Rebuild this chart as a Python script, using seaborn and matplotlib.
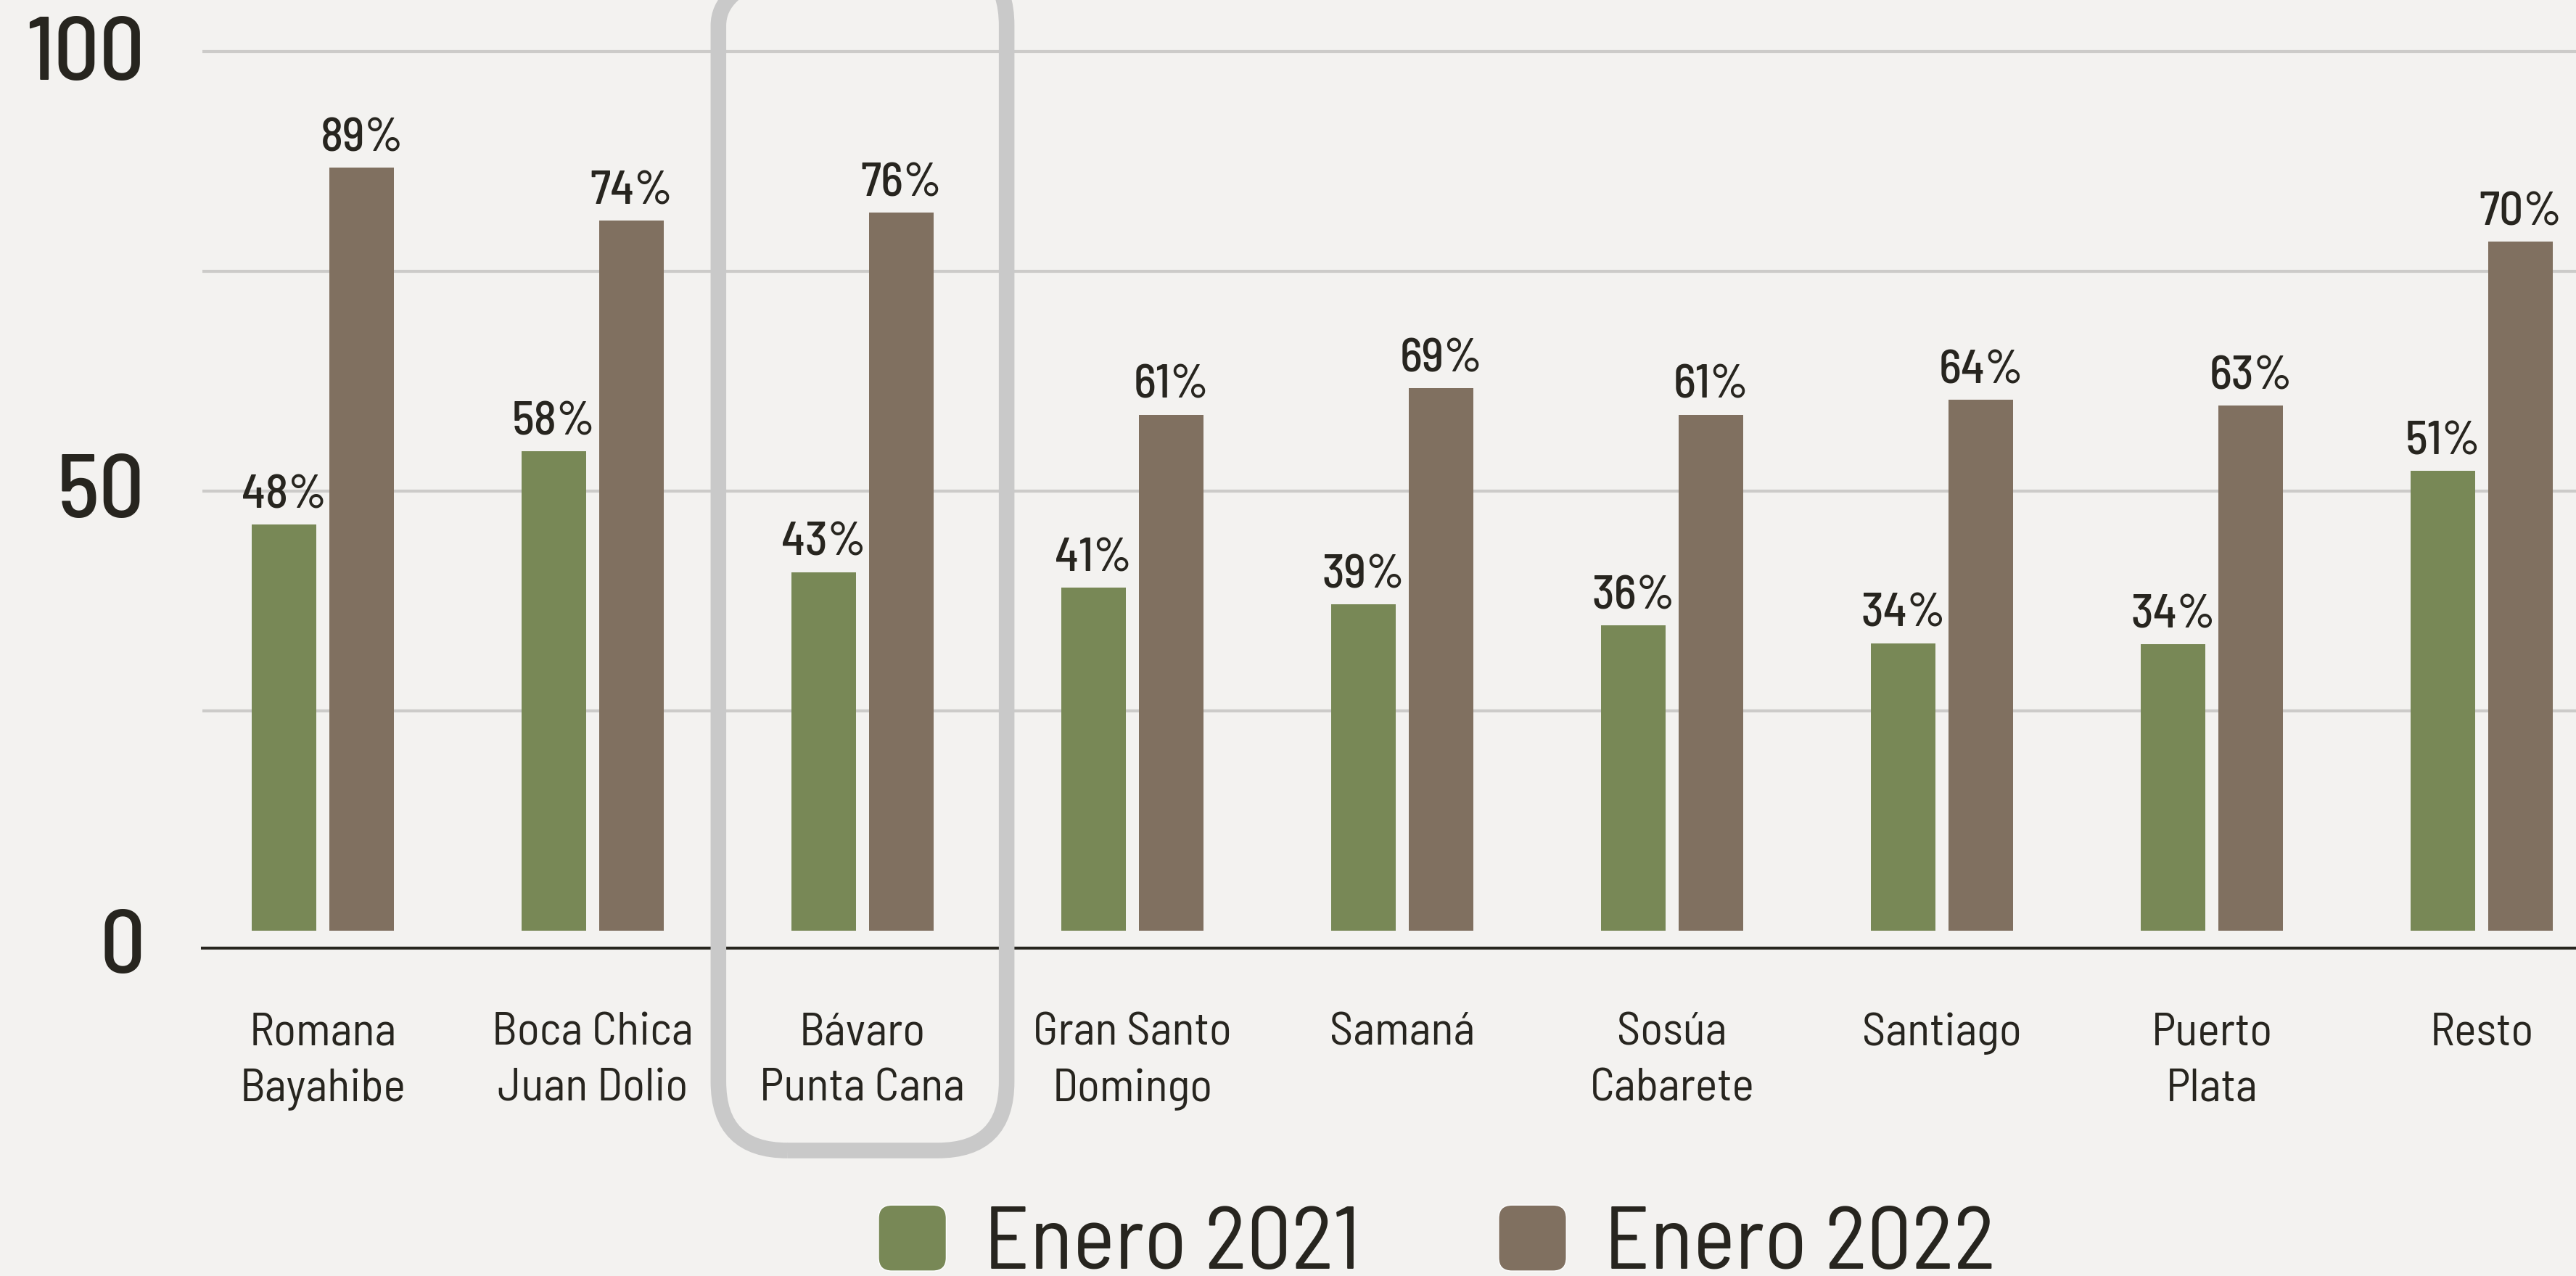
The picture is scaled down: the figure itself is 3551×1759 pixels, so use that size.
import pandas as pd
import matplotlib.pyplot as plt
import seaborn as sns
from matplotlib import font_manager
from matplotlib.patches import FancyBboxPatch, Patch
from matplotlib.legend_handler import HandlerPatch
from matplotlib.transforms import IdentityTransform

# datos
zonas = ['Romana\nBayahibe', 'Boca Chica\nJuan Dolio', 'Bávaro\nPunta Cana',
         'Gran Santo\nDomingo', 'Samaná', 'Sosúa\nCabarete', 'Santiago',
         'Puerto\nPlata', 'Resto']
series = ['Enero 2021', 'Enero 2022']
# altura de las barras (eje) y texto de las etiquetas
alturas_2021 = [46.2, 54.5, 40.8, 39.0, 37.1, 34.7, 32.7, 32.6, 52.3]
alturas_2022 = [86.8, 80.8, 81.7, 58.7, 61.7, 58.7, 60.4, 59.7, 78.4]
etiquetas_2021 = [48, 58, 43, 41, 39, 36, 34, 34, 51]
etiquetas_2022 = [89, 74, 76, 61, 69, 61, 64, 63, 70]
marcas_y = ['0', '50', '100']

VERDE = '#788856'
MARRON = '#807060'
FONDO = '#f3f2f0'
TEXTO = '#27251f'
REJILLA = '#cccbc9'
CAJA = '#c9c9c9'

sns.set_theme(style='white', rc={'figure.facecolor': FONDO, 'axes.facecolor': FONDO})

nombres = {f.name for f in font_manager.fontManager.ttflist}
fuente = 'DejaVu Sans'
for cand in ['Barlow Semi Condensed', 'Barlow', 'Roboto Condensed', 'Liberation Sans Narrow', 'Roboto']:
    if cand in nombres:
        fuente = cand
        break
plt.rcParams['font.family'] = [fuente, 'DejaVu Sans']

df = pd.DataFrame({
    'zona': zonas * 2,
    'serie': [series[0]] * len(zonas) + [series[1]] * len(zonas),
    'valor': alturas_2021 + alturas_2022,
})

W, H = 3551, 1759
fig = plt.figure(figsize=(W / 100, H / 100), dpi=100)
ax = fig.add_axes([279 / W, 1 - 1307 / H, 1 - 279 / W, 1307 / H])

sns.barplot(data=df, x='zona', y='valor', hue='serie', palette=[VERDE, MARRON],
            width=0.578, gap=0.173, saturation=1, linewidth=0, legend=False, ax=ax)

for cont, etiq in zip(ax.containers, [etiquetas_2021, etiquetas_2022]):
    ax.bar_label(cont, labels=[f'{v}%' for v in etiq], padding=7, fontsize=47,
                 color=TEXTO, fontweight='medium')

ax.set_xlim(-0.446, 8.349)
ax.set_ylim(-1.98, 105.86)
ax.set_xlabel('')
ax.set_ylabel('')

# rejilla en 25/50/75/100, etiquetas solo en 0/50/100
ax.set_yticks([25, 50, 75, 100], minor=True)
ax.set_yticks([-1.2, 50.6, 100.4], labels=marcas_y)
ax.grid(False, which='major')
ax.yaxis.grid(True, which='minor', color=REJILLA, linewidth=3)
ax.set_axisbelow(True)
ax.tick_params(which='both', length=0)
ax.tick_params(axis='y', labelsize=89, pad=57, labelcolor=TEXTO)
ax.tick_params(axis='x', labelsize=46.5, pad=64, labelcolor=TEXTO)
for lbl in ax.get_xticklabels():
    lbl.set_linespacing(1.42)
for lbl in ax.get_yticklabels():
    lbl.set_fontweight('medium')

for lado in ['left', 'right', 'top']:
    ax.spines[lado].set_visible(False)
ax.spines['bottom'].set_color(TEXTO)
ax.spines['bottom'].set_linewidth(2.9)

# recuadro redondeado que destaca Bávaro / Punta Cana
x0, y0 = ax.transData.transform((2 - 0.534, -25.0))
x1, y1 = ax.transData.transform((2 + 0.534, 110.8))
caja = FancyBboxPatch((x0, y0), x1 - x0, y1 - y0, boxstyle='round,pad=0,rounding_size=95',
                      transform=IdentityTransform(), fill=False, edgecolor=CAJA,
                      linewidth=15.5, zorder=5, clip_on=False)
fig.add_artist(caja)


def caja_leyenda(legend, orig_handle, xdescent, ydescent, width, height, fontsize):
    return FancyBboxPatch((-xdescent, -ydescent), width, height,
                          boxstyle=f'round,pad=0,rounding_size={height * 0.2}')


manejadores = [Patch(facecolor=c, label=s) for c, s in zip([VERDE, MARRON], series)]
fig.legend(handles=manejadores, loc='lower left', bbox_to_anchor=(1211 / W, -14 / H), ncol=2,
           frameon=False, fontsize=88.5, labelcolor=TEXTO, handlelength=0.76, handleheight=0.76,
           handletextpad=0.42, columnspacing=1.55, borderpad=0, borderaxespad=0,
           handler_map={Patch: HandlerPatch(patch_func=caja_leyenda)})

fig.savefig('out.png', dpi=100, facecolor=FONDO)
